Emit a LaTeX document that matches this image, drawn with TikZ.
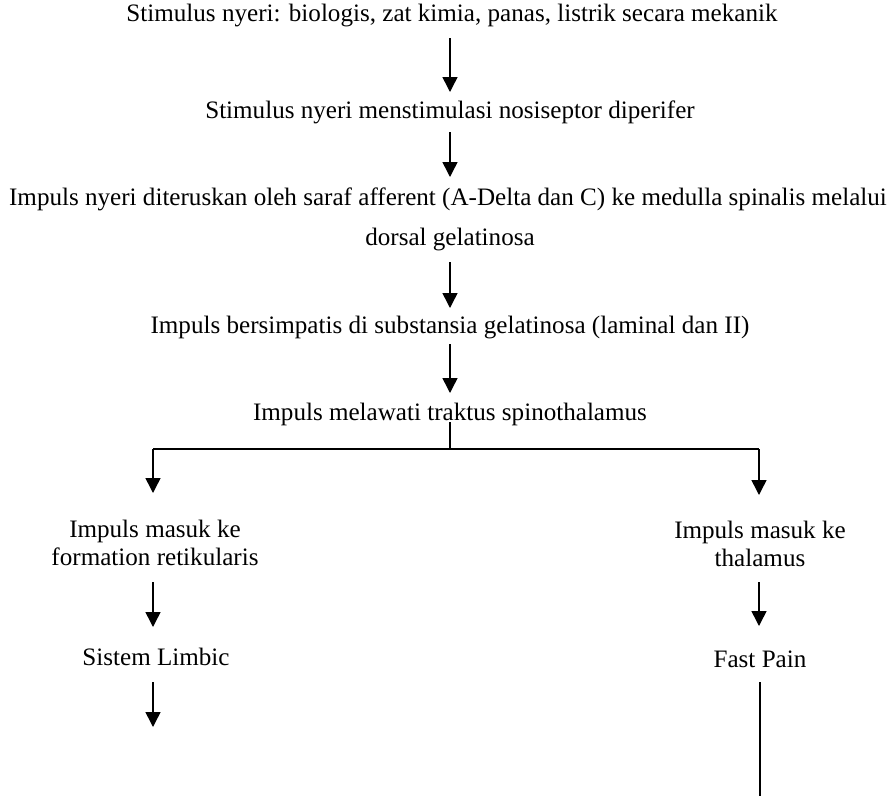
\documentclass[tikz,border=0pt]{standalone}
\usepackage{fontspec}
\setmainfont{Liberation Serif}
\usetikzlibrary{arrows.meta}

\begin{document}
\begin{tikzpicture}[x=1pt, y=-1pt,
    txt/.style={inner sep=0pt, anchor=base, align=center, font=\fontsize{25.1}{28}\selectfont},
    arr/.style={line width=1.5pt, -{Triangle[width=15pt,length=15pt]}},
    ln/.style={line width=1.5pt}]
  \useasboundingbox (0,0) rectangle (895,796);
  \node[txt] (stim) at (452,21) {Stimulus nyeri: biologis, zat kimia, panas, listrik secara mekanik};
  \node[txt] (nosi) at (450,118) {Stimulus nyeri menstimulasi nosiseptor diperifer};
  \node[txt] (aff) at (448,205) {Impuls nyeri diteruskan oleh saraf afferent (A-Delta dan C) ke medulla spinalis melalui};
  \node[txt] (dors) at (450,245) {dorsal gelatinosa};
  \node[txt] (subs) at (450,333) {Impuls bersimpatis di substansia gelatinosa (laminal dan II)};
  \node[txt] (trak) at (450,420) {Impuls melawati traktus spinothalamus};
  \node[txt] (reti) at (155,565) {Impuls masuk ke\\formation retikularis};
  \node[txt] (limb) at (156,665) {Sistem Limbic};
  \node[txt] (thal) at (760,566) {Impuls masuk ke\\thalamus};
  \node[txt] (fast) at (760,667) {Fast Pain};
  \coordinate (fork) at (450,449);
  \coordinate (forkl) at (153,449);
  \coordinate (forkr) at (759,449);
  \coordinate (limbend) at (153,727);
  \coordinate (fastend) at (760,796);

  \draw[arr] ([yshift=-17pt]stim.base -| nosi.base) -- ([yshift=26pt]nosi.base);
  \draw[arr] ([yshift=-14pt]nosi.base) -- ([yshift=28pt]aff.base -| nosi.base);
  \draw[arr] ([yshift=-17pt]dors.base) -- ([yshift=25pt]subs.base);
  \draw[arr] ([yshift=-11pt]subs.base) -- ([yshift=27pt]trak.base);
  \draw[ln] ([yshift=-2pt]trak.base) -- (fork);
  \draw[ln] (forkl) -- (forkr);
  \draw[arr] (forkl) -- ([yshift=72pt]reti.base -| forkl);
  \draw[arr] (forkr) -- ([yshift=71pt]thal.base -| forkr);
  \draw[arr] ([yshift=-17pt]reti.base -| forkl) -- ([yshift=38pt]limb.base -| forkl);
  \draw[arr] ([yshift=-17pt]limb.base -| forkl) -- (limbend);
  \draw[arr] ([yshift=-16pt]thal.base -| forkr) -- ([yshift=41pt]fast.base -| forkr);
  \draw[ln] ([yshift=-15pt]fast.base) -- (fastend);
\end{tikzpicture}
\end{document}
